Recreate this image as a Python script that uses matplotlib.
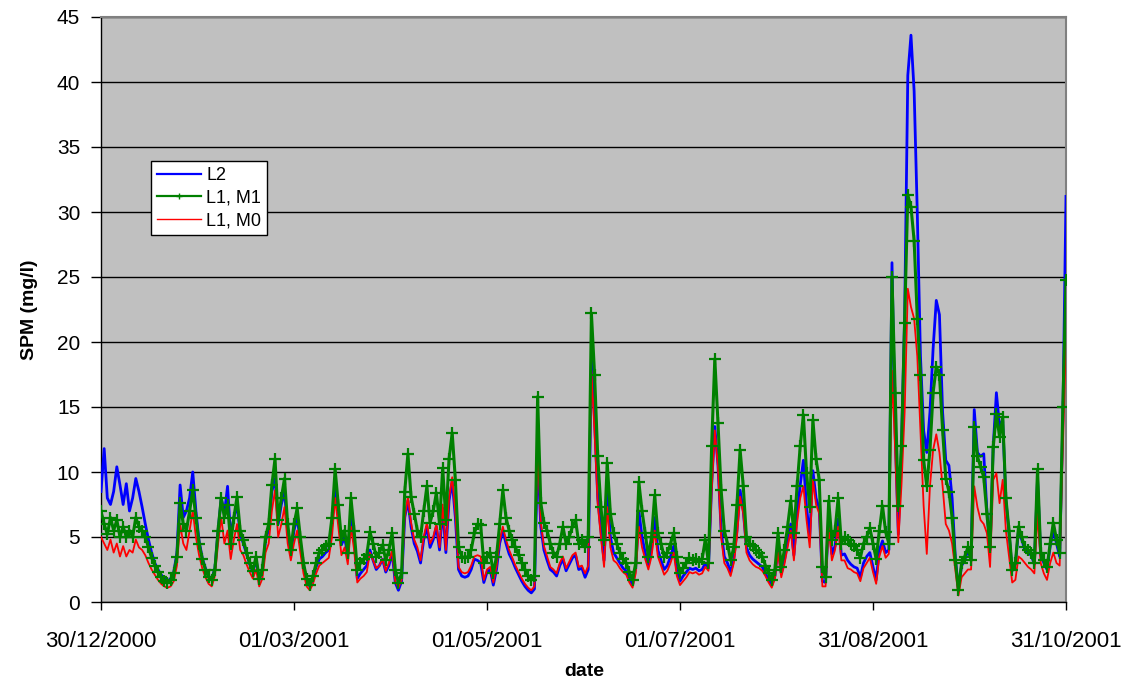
import matplotlib
matplotlib.use("Agg")
import matplotlib.pyplot as plt
from matplotlib.lines import Line2D
import pandas as pd

plt.rcParams['font.family'] = ['Liberation Sans', 'DejaVu Sans']

# Daily suspended particulate matter (mg/l), 30/12/2000 .. 31/10/2001
start_date = "2000-12-30"

spm_l2 = [
    8.5, 11.8, 8.0, 7.5, 8.5, 10.4, 9.0, 7.5, 9.1, 7.0,
    8.0, 9.5, 8.5, 7.3, 6.0, 4.8, 3.8, 3.0, 2.5, 2.1,
    1.8, 1.6, 1.8, 2.3, 3.8, 9.0, 6.5, 7.0, 8.0, 10.0,
    7.0, 4.7, 3.4, 2.6, 2.0, 1.8, 2.6, 5.5, 8.0, 6.8,
    8.9, 5.0, 6.5, 7.5, 5.2, 4.5, 3.7, 2.9, 2.3, 3.3,
    1.7, 2.4, 4.7, 5.6, 8.5, 9.5, 6.0, 7.5, 8.5, 5.5,
    3.8, 5.5, 6.5, 4.6, 2.8, 1.7, 1.2, 1.8, 2.7, 3.3,
    3.5, 3.8, 4.0, 6.0, 9.2, 6.8, 4.4, 5.0, 3.5, 7.0,
    4.8, 1.8, 2.2, 2.5, 2.8, 4.0, 3.2, 2.5, 2.8, 3.3,
    2.3, 2.8, 3.8, 1.5, 0.9, 1.6, 6.5, 7.8, 5.8, 4.5,
    3.9, 3.0, 4.8, 5.8, 4.2, 4.8, 5.8, 4.0, 7.2, 3.8,
    7.8, 9.3, 6.5, 2.5, 2.0, 1.9, 2.0, 2.5, 3.3, 3.2,
    3.0, 1.5, 2.3, 2.5, 1.3, 2.5, 4.5, 5.5, 4.5, 3.7,
    3.2, 2.6, 2.1, 1.6, 1.2, 0.9, 0.7, 1.0, 11.5, 5.8,
    4.0, 3.2, 2.5, 2.3, 2.0, 2.8, 3.3, 2.4, 2.9, 3.4,
    3.6, 2.5, 2.6, 1.9, 2.5, 18.8, 14.0, 8.0, 5.5, 3.2,
    8.6, 5.0, 3.8, 3.4, 3.0, 2.6, 2.4, 1.8, 1.3, 2.6,
    7.0, 5.0, 3.8, 2.8, 4.0, 6.5, 4.0, 3.2, 2.5, 2.8,
    3.5, 4.3, 2.5, 1.6, 2.0, 2.3, 2.6, 2.5, 2.6, 2.4,
    2.5, 3.0, 2.6, 9.0, 13.5, 10.5, 5.5, 3.5, 3.0, 2.3,
    3.3, 5.5, 8.6, 7.0, 4.2, 3.6, 3.3, 3.1, 2.9, 2.7,
    2.2, 1.7, 1.3, 2.0, 4.2, 2.2, 3.2, 4.6, 6.0, 3.6,
    6.8, 9.0, 10.9, 7.3, 5.0, 10.1, 8.0, 7.2, 1.6, 1.5,
    6.5, 3.7, 4.3, 6.4, 3.6, 3.7, 3.2, 2.9, 2.7, 2.6,
    1.9, 3.0, 3.5, 3.8, 2.7, 1.7, 4.0, 4.7, 3.8, 4.0,
    26.1, 13.0, 5.2, 12.0, 22.0, 40.5, 43.6, 39.3, 29.9, 18.9,
    13.2, 11.5, 14.6, 19.5, 23.2, 22.1, 14.6, 10.9, 10.5, 8.0,
    3.5, 1.0, 2.8, 3.2, 4.0, 3.3, 14.8, 11.5, 11.2, 11.4,
    7.0, 4.0, 12.0, 16.1, 13.5, 14.0, 7.8, 5.3, 2.4, 2.9,
    5.5, 4.8, 4.0, 3.8, 3.6, 2.9, 9.5, 3.6, 3.0, 2.5,
    4.3, 5.5, 4.5, 3.5, 14.0, 31.2,
]

spm_l1_m1 = [
    7.0, 6.0, 5.2, 6.5, 5.5, 6.3, 5.0, 5.8, 5.0, 5.5,
    5.0, 6.5, 5.8, 5.5, 5.0, 4.2, 3.4, 2.8, 2.3, 1.9,
    1.6, 1.5, 1.7, 2.2, 3.5, 7.6, 6.0, 5.5, 7.0, 8.6,
    6.5, 4.5, 3.3, 2.5, 1.9, 1.7, 2.5, 5.5, 8.0, 6.5,
    7.5, 4.5, 6.5, 8.1, 5.5, 4.8, 3.8, 3.0, 2.4, 3.5,
    1.8, 2.5, 5.0, 6.0, 9.0, 11.0, 6.3, 8.0, 9.5, 6.0,
    4.0, 6.0, 7.2, 5.0, 3.0, 1.8, 1.3, 2.0, 3.0, 3.8,
    4.0, 4.3, 4.5, 6.5, 10.2, 7.5, 4.8, 5.5, 3.8, 8.0,
    5.5, 2.5, 3.0, 3.3, 3.6, 5.4, 4.5, 3.5, 3.8, 4.4,
    3.2, 4.0, 5.3, 2.5, 1.5, 2.2, 8.5, 11.4, 8.1, 6.8,
    5.5, 5.0, 7.0, 8.9, 6.1, 7.0, 8.4, 6.0, 10.3, 6.3,
    11.0, 13.0, 9.4, 4.2, 3.5, 3.4, 3.5, 4.0, 5.3, 6.0,
    5.9, 3.0, 3.5, 3.8, 2.2, 3.5, 6.0, 8.6, 6.5, 5.5,
    4.8, 4.2, 3.6, 3.0, 2.5, 2.0, 1.7, 2.0, 15.8, 7.6,
    6.1, 5.5, 4.5, 3.8, 3.5, 4.5, 5.8, 4.5, 5.0, 5.8,
    6.3, 4.5, 4.8, 4.2, 5.0, 22.2, 17.5, 11.2, 7.3, 4.8,
    10.7, 6.8, 5.3, 4.5, 3.8, 3.3, 3.0, 2.3, 1.7, 3.0,
    9.2, 7.0, 5.3, 3.5, 5.0, 8.2, 5.3, 4.5, 3.5, 3.8,
    4.5, 5.3, 3.5, 2.2, 2.6, 3.0, 3.4, 3.2, 3.3, 3.1,
    3.3, 4.8, 3.0, 12.0, 18.7, 13.8, 8.6, 5.5, 4.5, 3.2,
    4.2, 7.5, 11.7, 8.9, 5.0, 4.5, 4.3, 4.0, 3.8, 3.5,
    2.8, 2.2, 1.7, 2.5, 5.3, 2.7, 4.0, 5.8, 7.8, 5.3,
    8.9, 12.0, 14.4, 9.9, 7.3, 14.0, 11.0, 9.4, 2.7, 1.9,
    7.8, 4.8, 5.5, 8.0, 4.5, 5.0, 4.8, 4.5, 4.3, 4.0,
    3.4, 4.5, 5.0, 5.7, 4.5, 3.3, 5.5, 7.4, 5.4, 4.5,
    25.0, 16.1, 7.4, 12.0, 21.5, 31.3, 30.4, 27.8, 21.8, 17.5,
    10.9, 8.9, 11.7, 16.1, 18.1, 17.5, 13.2, 9.5, 8.5, 6.5,
    3.2, 0.9, 3.0, 3.5, 4.2, 3.2, 13.5, 11.2, 10.4, 9.6,
    6.8, 4.2, 11.9, 14.5, 12.7, 14.2, 8.0, 5.5, 2.5, 3.0,
    5.8, 5.0, 4.2, 4.0, 3.8, 3.0, 10.2, 3.8, 3.2, 2.7,
    4.5, 6.1, 4.8, 3.8, 15.0, 24.8,
]

spm_l1_m0 = [
    5.0, 4.5, 4.0, 4.8, 3.8, 4.5, 3.5, 4.3, 3.5, 4.0,
    3.8, 4.8, 4.2, 4.0, 3.6, 3.0, 2.5, 2.1, 1.7, 1.4,
    1.2, 1.1, 1.2, 1.6, 2.8, 6.0, 4.5, 4.0, 5.5, 7.0,
    5.0, 3.6, 2.6, 1.9, 1.4, 1.2, 2.0, 4.5, 6.5, 4.5,
    5.5, 3.3, 4.8, 6.0, 4.0, 3.6, 2.9, 2.3, 1.8, 2.5,
    1.2, 1.8, 3.8, 4.5, 7.0, 8.6, 5.0, 6.0, 7.3, 4.5,
    3.2, 4.5, 5.5, 3.8, 2.2, 1.2, 0.9, 1.4, 2.2, 2.8,
    3.0, 3.2, 3.4, 5.0, 8.0, 5.8, 3.6, 4.2, 2.9, 5.8,
    4.0, 1.5, 1.8, 2.0, 2.3, 3.8, 3.2, 2.6, 2.8, 3.3,
    2.4, 3.0, 4.0, 1.6, 1.1, 1.7, 6.5, 8.1, 6.1, 4.8,
    4.2, 3.2, 5.0, 6.1, 4.5, 5.0, 6.0, 4.2, 7.5, 4.0,
    8.0, 9.6, 6.8, 2.7, 2.3, 2.2, 2.3, 2.8, 3.5, 3.6,
    3.5, 1.7, 2.5, 2.7, 1.5, 2.7, 4.7, 5.8, 4.8, 4.0,
    3.4, 2.8, 2.3, 1.8, 1.4, 1.1, 0.9, 1.2, 12.0, 6.1,
    4.3, 3.5, 2.7, 2.5, 2.2, 3.0, 3.5, 2.6, 3.1, 3.6,
    3.8, 2.7, 2.8, 2.2, 2.8, 17.8, 13.0, 7.5, 5.0, 2.7,
    7.3, 4.2, 3.2, 3.0, 2.6, 2.3, 2.1, 1.5, 1.1, 2.2,
    5.8, 4.2, 3.3, 2.5, 3.5, 5.5, 3.5, 2.8, 2.1, 2.4,
    3.0, 3.8, 2.0, 1.3, 1.6, 1.9, 2.3, 2.2, 2.3, 2.1,
    2.2, 2.7, 2.4, 8.5, 13.2, 10.4, 5.0, 3.0, 2.6, 2.0,
    3.0, 5.0, 8.1, 6.8, 3.8, 3.2, 2.9, 2.7, 2.6, 2.4,
    2.0, 1.5, 1.1, 1.8, 3.8, 1.9, 2.9, 4.2, 5.5, 3.2,
    6.1, 8.0, 8.9, 6.3, 4.2, 9.4, 7.5, 6.8, 1.2, 1.2,
    5.8, 3.2, 4.0, 5.8, 3.2, 3.2, 2.6, 2.5, 2.3, 2.2,
    1.6, 2.6, 3.0, 3.4, 2.3, 1.4, 3.5, 4.3, 3.4, 3.7,
    17.8, 11.7, 4.6, 9.0, 14.6, 24.1, 22.7, 21.8, 18.9, 13.2,
    7.4, 3.7, 8.9, 11.7, 12.9, 11.5, 8.9, 6.0, 5.5, 4.5,
    2.5, 0.5, 1.9, 2.2, 2.5, 2.5, 8.9, 7.3, 6.3, 6.0,
    5.3, 2.7, 9.4, 9.9, 7.6, 9.4, 5.5, 3.5, 1.5, 1.7,
    3.5, 3.3, 3.0, 2.7, 2.5, 2.2, 6.8, 3.0, 2.2, 1.7,
    3.0, 3.8, 3.0, 2.8, 11.9, 20.2,
]

tick_labels = ["30/12/2000", "01/03/2001", "01/05/2001",
               "01/07/2001", "31/08/2001", "31/10/2001"]
series_names = ["L2", "L1, M1", "L1, M0"]

dates = pd.date_range(start_date, periods=len(spm_l1_m1), freq="D")
tick_dates = pd.to_datetime(tick_labels, format="%d/%m/%Y")

fig = plt.figure(figsize=(11.29, 6.89), dpi=100)
ax = fig.add_axes([101 / 1129, 1 - 602 / 689, 965 / 1129, 585 / 689])
ax.set_facecolor("#C0C0C0")

ax.plot(dates, spm_l2, color="#0000FF", lw=2.0, zorder=3)
ax.plot(dates, spm_l1_m0, color="#FF0000", lw=1.3, zorder=4)
ax.plot(dates, spm_l1_m1, color="#008000", lw=2.2, marker="+",
        markersize=8, markeredgewidth=1.6, zorder=5)

ax.set_xlim(tick_dates[0], tick_dates[-1])
ax.set_ylim(0, 45)
ax.set_yticks(range(0, 46, 5))
ax.set_xticks(tick_dates)
ax.set_xticklabels(tick_labels)
ax.xaxis.set_minor_locator(plt.NullLocator())

ax.yaxis.grid(True, color="black", lw=1.0)
ax.set_axisbelow(True)

for side in ("left", "bottom"):
    ax.spines[side].set_color("black")
    ax.spines[side].set_linewidth(1.0)
for side in ("top", "right"):
    ax.spines[side].set_color("#808080")
    ax.spines[side].set_linewidth(1.5)

ax.tick_params(axis="y", direction="out", length=7, width=1, pad=8,
               labelsize=15, colors="black")
ax.tick_params(axis="x", direction="out", length=6, width=1, pad=15,
               labelsize=16, colors="black")

fig.text(30 / 1129, 1 - 310 / 689, "SPM (mg/l)", rotation=90,
         ha="center", va="center", fontsize=14, fontweight="bold")
fig.text(584 / 1129, 1 - 672 / 689, "date", ha="center", va="center",
         fontsize=14, fontweight="bold")

handles = [
    Line2D([], [], color="#0000FF", lw=1.6),
    Line2D([], [], color="#008000", lw=1.6, marker="+", markersize=5,
           markeredgewidth=1.0),
    Line2D([], [], color="#FF0000", lw=1.0),
]
leg = ax.legend(handles, series_names, loc="upper left",
                bbox_to_anchor=(151 / 1129, 1 - 161 / 689),
                bbox_transform=fig.transFigure, fontsize=13,
                frameon=True, fancybox=False, shadow=False,
                handlelength=2.4, handletextpad=0.3, borderpad=0.35,
                labelspacing=0.3, borderaxespad=0)
leg.get_frame().set_edgecolor("black")
leg.get_frame().set_linewidth(1.0)
leg.get_frame().set_facecolor("white")
leg.get_frame().set_alpha(1.0)

fig.savefig("out.png", dpi=100)
